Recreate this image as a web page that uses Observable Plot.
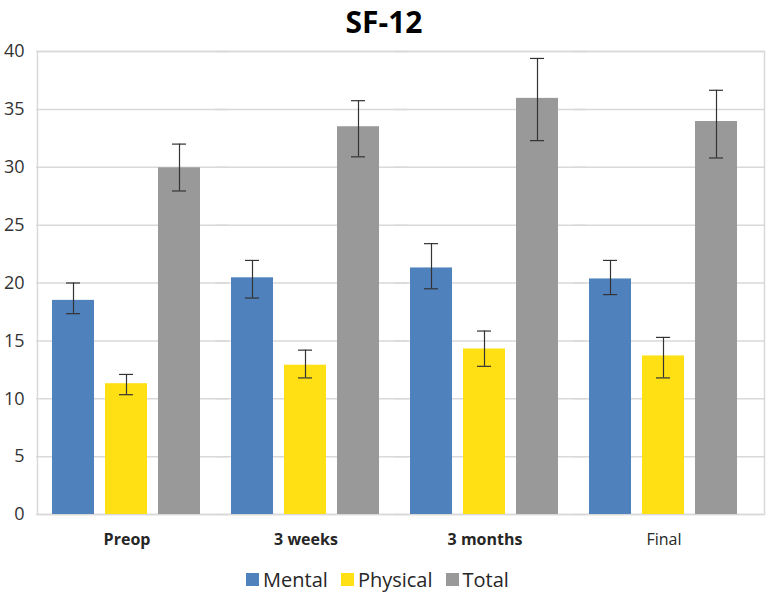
<!DOCTYPE html>
<html><head><meta charset="utf-8">
<script src="https://cdn.jsdelivr.net/npm/d3@7"></script>
<script src="https://cdn.jsdelivr.net/npm/@observablehq/plot@0.6"></script>
<style>
body{margin:0;background:#fff;font-family:"Open Sans",sans-serif;width:768px;}
#title{height:40px;text-align:center;font-weight:bold;font-size:30px;line-height:44px;color:#000;}
#legend{display:flex;justify-content:center;margin-top:9px;}
#legend span > svg{margin-right:4px !important;}
#legend span{margin-right:13px !important;}
</style></head>
<body>
<div id="title">SF-12</div>
<div id="chart"></div>
<div id="legend"></div>
<script>
const categories = ["Preop", "3 weeks", "3 months", "Final"];
const series = ["Mental", "Physical", "Total"];
const colors = ["#4f81bd", "#ffe015", "#999999"];
const yTicks = [0, 5, 10, 15, 20, 25, 30, 35, 40];

const mental = [18.5, 20.45, 21.3, 20.35];
const mentalLo = [17.35, 18.7, 19.5, 19.0];
const mentalHi = [20.0, 21.95, 23.4, 21.95];
const physical = [11.3, 12.9, 14.3, 13.7];
const physicalLo = [10.35, 11.8, 12.8, 11.8];
const physicalHi = [12.1, 14.2, 15.85, 15.3];
const total = [29.95, 33.5, 35.95, 33.95];
const totalLo = [27.95, 30.9, 32.3, 30.8];
const totalHi = [32.0, 35.75, 39.4, 36.65];

const vals = {Mental: [mental, mentalLo, mentalHi], Physical: [physical, physicalLo, physicalHi], Total: [total, totalLo, totalHi]};
const rows = [];
categories.forEach((c, i) => series.forEach(s => {
  rows.push({category: c, series: s, value: vals[s][0][i], lo: vals[s][1][i], hi: vals[s][2][i]});
}));

const chart = Plot.plot({
  width: 768, height: 514,
  marginTop: 11, marginBottom: 40, marginLeft: 51, marginRight: 30,
  style: {fontFamily: "Open Sans", fontSize: "16px", color: "#333", background: "white", overflow: "visible"},
  fx: {domain: categories, paddingInner: 0.17, paddingOuter: 0, axis: null, label: null},
  x: {domain: series, paddingInner: 0.2, paddingOuter: 0, axis: null},
  y: {domain: [0, 40], label: null, axis: null},
  color: {domain: series, range: colors},
  marks: [
    Plot.ruleY(yTicks, {y: d => d, stroke: "#d9d9d9", strokeWidth: 1.5, insetLeft: -16, insetRight: -27}),
    Plot.frame({stroke: "#d9d9d9", strokeWidth: 1.5, facet: "super", insetLeft: -15, insetRight: -26}),
    Plot.axisY({ticks: yTicks, tickSize: 0, tickPadding: 28, fontSize: 18, fill: "#333", label: null}),
    Plot.barY(rows, {fx: "category", x: "series", y: "value", fill: "series"}),
    Plot.ruleX(rows, {fx: "category", x: "series", y1: "lo", y2: "hi", stroke: "#333", strokeWidth: 1.2}),
    Plot.tickY(rows, {fx: "category", x: "series", y: "lo", insetLeft: 14, insetRight: 14, stroke: "#333", strokeWidth: 1.2}),
    Plot.tickY(rows, {fx: "category", x: "series", y: "hi", insetLeft: 14, insetRight: 14, stroke: "#333", strokeWidth: 1.2}),
    Plot.text(categories, {fx: d => d, text: d => d, filter: d => d !== "Final", frameAnchor: "bottom", dy: 25, lineAnchor: "middle", fontWeight: "bold", fill: "#262626", fontSize: 16}),
    Plot.text(categories, {fx: d => d, text: d => d, filter: d => d === "Final", frameAnchor: "bottom", dy: 25, lineAnchor: "middle", fill: "#262626", fontSize: 16})
  ]
});
document.getElementById("chart").appendChild(chart);

const legend = Plot.legend({
  color: {domain: series, range: colors},
  legend: "swatches",
  swatchSize: 13,
  style: {fontFamily: "Open Sans", fontSize: "20px", color: "#262626"}
});
document.getElementById("legend").appendChild(legend);
</script>
</body></html>
